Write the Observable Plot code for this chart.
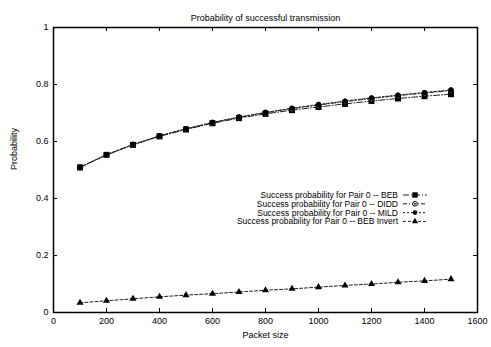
<!DOCTYPE html>
<html>
<head>
<meta charset="utf-8">
<script src="https://cdn.jsdelivr.net/npm/d3@7"></script>
<script src="https://cdn.jsdelivr.net/npm/@observablehq/plot@0.6"></script>
<style>
  html, body { margin: 0; padding: 0; background: #fff; }
  svg { display: block; }
</style>
</head>
<body>
<div id="chart"></div>
<script>
const packetSizes = [100, 200, 300, 400, 500, 600, 700, 800, 900, 1000, 1100, 1200, 1300, 1400, 1500];
const beb       = [0.509, 0.553, 0.588, 0.618, 0.642, 0.664, 0.682, 0.697, 0.710, 0.721, 0.732, 0.742, 0.751, 0.759, 0.766];
const didd      = [0.509, 0.553, 0.589, 0.619, 0.644, 0.666, 0.685, 0.701, 0.715, 0.728, 0.740, 0.751, 0.761, 0.770, 0.779];
const mild      = [0.510, 0.554, 0.590, 0.620, 0.645, 0.667, 0.686, 0.702, 0.717, 0.730, 0.742, 0.753, 0.763, 0.772, 0.781];
const bebInvert = [0.034, 0.041, 0.048, 0.055, 0.061, 0.066, 0.072, 0.078, 0.083, 0.089, 0.095, 0.100, 0.106, 0.111, 0.117];

const seriesNames = [
  "Success probability for Pair 0 -- BEB",
  "Success probability for Pair 0 -- DIDD",
  "Success probability for Pair 0 -- MILD",
  "Success probability for Pair 0 -- BEB Invert"
];
const seriesValues = [beb, didd, mild, bebInvert];
const xTicks = [0, 200, 400, 600, 800, 1000, 1200, 1400, 1600];
const yTicks = [0, 0.2, 0.4, 0.6, 0.8, 1];
const titleText = "Probability of successful transmission";
const xLabel = "Packet size";
const yLabel = "Probability";

const styles = [
  {dash: "6,2,1,2", symbol: "square", r: 3.4, fill: "#000", stroke: "none"},
  {dash: "4,2,1,2", symbol: "circle", r: 2.6, fill: "#fff", stroke: "#000"},
  {dash: "2,2", symbol: "circle", r: 2.6, fill: "#000", stroke: "none"},
  {dash: "3,2", symbol: "triangle", r: 2.6, fill: "#000", stroke: "none"}
];

const rows = [];
seriesValues.forEach((vals, s) => vals.forEach((v, i) => rows.push({series: s, x: packetSizes[i], y: v})));

const W = 491, H = 347;
const mL = 53, mR = 14, mT = 27, mB = 35;
const plotW = W - mL - mR, plotH = H - mT - mB;
const tickLen = 4;

const marks = [];
seriesValues.forEach((vals, s) => {
  const d = rows.filter(r => r.series === s);
  marks.push(Plot.line(d, {x: "x", y: "y", stroke: "#222", strokeWidth: 1, strokeDasharray: styles[s].dash}));
});
seriesValues.forEach((vals, s) => {
  const d = rows.filter(r => r.series === s);
  const st = styles[s];
  marks.push(Plot.dot(d, {x: "x", y: "y", symbol: st.symbol, r: st.r, fill: st.fill, stroke: st.stroke, strokeWidth: 1}));
  if (s === 1) marks.push(Plot.dot(d, {x: "x", y: "y", r: 0.9, fill: "#000"}));
});

const chart = Plot.plot({
  width: W,
  height: H,
  marginLeft: mL, marginRight: mR, marginTop: mT, marginBottom: mB,
  style: {fontFamily: "'Liberation Sans', Arial, sans-serif", fontSize: "9px", background: "#fff", color: "#000"},
  x: {domain: [0, 1600]},
  y: {domain: [0, 1]},
  marks: [
    Plot.axisX({ticks: xTicks, tickSize: 0, tickPadding: 5, label: null, tickFormat: d => String(d)}),
    Plot.axisY({ticks: yTicks, tickSize: 0, tickPadding: 5, label: null, tickFormat: d => String(d)}),
    Plot.tickX(xTicks, {x: d => d, insetBottom: plotH - tickLen, stroke: "#000"}),
    Plot.tickX(xTicks, {x: d => d, insetTop: plotH - tickLen, stroke: "#000"}),
    Plot.tickY(yTicks, {y: d => d, insetRight: plotW - tickLen, stroke: "#000"}),
    Plot.tickY(yTicks, {y: d => d, insetLeft: plotW - tickLen, stroke: "#000"}),
    ...marks,
    Plot.frame({stroke: "#000", strokeWidth: 1.5}),
    Plot.text([titleText], {frameAnchor: "top", dy: -13, text: d => d, fontSize: 9}),
    Plot.text([xLabel], {frameAnchor: "bottom", dy: 25, text: d => d, fontSize: 9}),
    Plot.text([yLabel], {frameAnchor: "left", dx: -39, rotate: -90, text: d => d, fontSize: 9})
  ]
});

// Legend (inside plot, gnuplot style)
const svg = d3.select(chart);
const lg = svg.append("g").attr("font-family", "'Liberation Sans', Arial, sans-serif").attr("font-size", 8.5);
const textEnd = 398, sampleX1 = 403, sampleX2 = 427, y0 = 195, dyRow = 8.8;
seriesNames.forEach((name, s) => {
  const y = y0 + s * dyRow;
  const st = styles[s];
  lg.append("text").attr("x", textEnd).attr("y", y).attr("dy", "0.35em").attr("text-anchor", "end")
    .attr("textLength", null).text(name);
  lg.append("line").attr("x1", sampleX1).attr("x2", sampleX2).attr("y1", y).attr("y2", y)
    .attr("stroke", "#222").attr("stroke-width", 1).attr("stroke-dasharray", st.dash);
  const sym = {square: d3.symbolSquare, circle: d3.symbolCircle, triangle: d3.symbolTriangle}[st.symbol];
  lg.append("path").attr("transform", `translate(${(sampleX1 + sampleX2) / 2},${y})`)
    .attr("d", d3.symbol(sym, Math.PI * st.r * st.r * 0.8)())
    .attr("fill", st.fill).attr("stroke", st.stroke === "none" ? null : st.stroke);
  if (s === 1) lg.append("circle").attr("cx", (sampleX1 + sampleX2) / 2).attr("cy", y).attr("r", 0.9).attr("fill", "#000");
});

document.getElementById("chart").appendChild(chart);
</script>
</body>
</html>
